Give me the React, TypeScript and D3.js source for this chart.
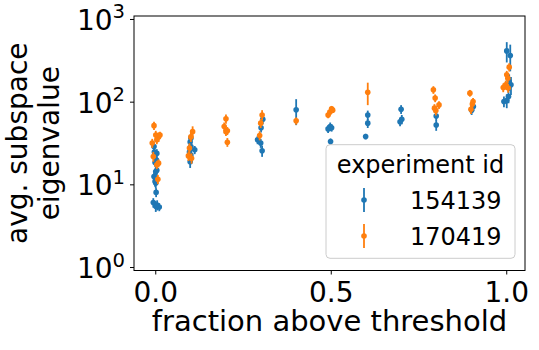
import { useRef, useEffect } from 'react'
import * as d3 from 'd3'

const BLUE = '#1f77b4'
const ORANGE = '#ff7f0e'

// experiment 154139
const fracA = [
  -0.005, 0.003, -0.004, 0.002, -0.002, 0.003, 0.0, -0.005, -0.002, 0.0, 0.001, -0.007, 0.004, 0.01, 0.0,
  0.1, 0.098, 0.1, 0.111, 0.096, 0.1, 0.098,
  0.305, 0.3, 0.29, 0.299, 0.303,
  0.4,
  0.497, 0.501, 0.491, 0.498,
  0.604, 0.604, 0.598,
  0.699, 0.701, 0.696,
  0.799, 0.799,
  0.905, 0.9,
  1.0, 1.01, 1.007, 1.012, 0.992, 1.0, 1.005,
]
const eigA = [
  29, 24, 25, 20, 18.6, 15, 14.5, 12.6, 11, 10.5, 8.1, 6.1, 5.7, 5.4, 5.5,
  36.7, 33, 29, 26.5, 25, 23, 19,
  62, 49, 35, 32, 25.8,
  80.7,
  50.7, 49, 47.5, 33.4,
  70, 55.7, 38.4,
  82, 62, 58,
  68, 53,
  88.5, 80,
  417, 366, 177, 162, 102, 104.5, 117,
]
const errA = [
  3, 3, 3, 2.5, 2, 2, 2, 1.5, 1.5, 1.5, 1, 0.8, 0.8, 0.6, 0.8,
  5, 4, 4, 3, 3, 3, 3,
  8, 6, 4, 4, 4,
  28,
  6, 5, 5, 3,
  9, 7, 3,
  10, 8, 7,
  8, 8,
  10, 10,
  115, 130, 40, 40, 15, 20, 20,
]

// experiment 170419
const fracB = [
  -0.005, 0.0, 0.008, -0.01, 0.003, 0.012, -0.007, 0.008, 0.003, 0.006,
  0.105, 0.1, 0.096, 0.093, 0.102,
  0.2, 0.195, 0.204, 0.2, 0.204,
  0.303, 0.299, 0.296,
  0.4,
  0.491, 0.496, 0.501, 0.504,
  0.604,
  0.791, 0.796, 0.807, 0.794, 0.798,
  0.895, 0.902, 0.904, 0.898,
  1.007, 1.0, 1.003, 0.997, 0.99, 1.004,
]
const eigB = [
  52, 40, 38, 32, 35, 40, 22, 18.3, 17.5, 11.7,
  44, 38, 27.8, 22.4, 21,
  62.8, 50.7, 45, 44, 32.8,
  70, 55.7, 39.5,
  59.4,
  70, 75.7, 83, 80,
  132,
  141, 112, 92.7, 84.6, 79,
  128.5, 95, 102, 82,
  265, 214, 195, 162, 150, 148,
]
const errB = [
  6, 5, 5, 4, 4, 4, 3, 2, 2, 1.5,
  7, 5, 4, 3, 3,
  8, 6, 5, 5, 4,
  10, 7, 5,
  6,
  6, 7, 7, 6,
  40,
  15, 12, 10, 10, 10,
  12, 10, 10, 10,
  30, 25, 25, 20, 18, 18,
]

const xTicks = [0, 0.5, 1.0]
const yTicks = [1, 10, 100, 1000]
const seriesNames = ['154139', '170419']

const FONT = 'DejaVu Sans, sans-serif'

export default function App() {
  const svgRef = useRef<SVGSVGElement | null>(null)
  const width = 539
  const height = 350
  const margin = { left: 134, right: 14, top: 16, bottom: 79.5 }

  useEffect(() => {
    if (!svgRef.current) return
    const svg = d3.select(svgRef.current)
    svg.selectAll('*').remove()

    const x = d3
      .scaleLinear()
      .domain([-0.062, 1.052])
      .range([margin.left, width - margin.right])
    const y = d3
      .scaleLog()
      .domain([Math.pow(10, -0.036), Math.pow(10, 3.042)])
      .range([height - margin.bottom, margin.top])

    const series = [
      { name: seriesNames[0], color: BLUE, xs: fracA, ys: eigA, es: errA },
      { name: seriesNames[1], color: ORANGE, xs: fracB, ys: eigB, es: errB },
    ]

    const plot = svg.append('g')
    series.forEach((s) => {
      const pts = s.xs.map((v, i) => ({ f: v, e: s.ys[i], err: s.es[i] }))
      const g = plot.append('g')
      g.selectAll('line')
        .data(pts)
        .join('line')
        .attr('x1', (d) => x(d.f))
        .attr('x2', (d) => x(d.f))
        .attr('y1', (d) => y(d.e + d.err))
        .attr('y2', (d) => y(Math.max(d.e - d.err, 0.5)))
        .attr('stroke', s.color)
        .attr('stroke-width', 1.8)
      g.selectAll('circle')
        .data(pts)
        .join('circle')
        .attr('cx', (d) => x(d.f))
        .attr('cy', (d) => y(d.e))
        .attr('r', 2.8)
        .attr('fill', s.color)
    })

    // frame
    svg
      .append('rect')
      .attr('x', margin.left)
      .attr('y', margin.top)
      .attr('width', width - margin.left - margin.right)
      .attr('height', height - margin.top - margin.bottom)
      .attr('fill', 'none')
      .attr('stroke', '#000')
      .attr('stroke-width', 1)

    // x ticks
    const xb = height - margin.bottom
    xTicks.forEach((t) => {
      svg.append('line')
        .attr('x1', x(t)).attr('x2', x(t))
        .attr('y1', xb).attr('y2', xb + 4)
        .attr('stroke', '#000')
      svg.append('text')
        .attr('x', x(t))
        .attr('y', 302)
        .attr('text-anchor', 'middle')
        .attr('font-family', FONT)
        .attr('font-size', 28)
        .text(d3.format('.1f')(t))
    })

    // y ticks
    yTicks.forEach((t) => {
      const yy = y(t)
      svg.append('line')
        .attr('x1', margin.left - 4).attr('x2', margin.left)
        .attr('y1', yy).attr('y2', yy)
        .attr('stroke', '#000')
      const txt = svg.append('text')
        .attr('x', 125)
        .attr('y', yy + 10.6)
        .attr('text-anchor', 'end')
        .attr('font-family', FONT)
        .attr('font-size', 28)
      txt.append('tspan').text('10')
      txt.append('tspan')
        .attr('font-size', 19.6)
        .attr('dy', -11.6)
        .text(String(Math.round(Math.log10(t))))
    })

    // axis labels
    svg.append('text')
      .attr('x', (margin.left + width - margin.right) / 2)
      .attr('y', 331)
      .attr('text-anchor', 'middle')
      .attr('font-family', FONT)
      .attr('font-size', 29)
      .text('fraction above threshold')

    const yl = svg.append('text')
      .attr('transform', `translate(0,${(margin.top + height - margin.bottom) / 2}) rotate(-90)`)
      .attr('text-anchor', 'middle')
      .attr('font-family', FONT)
      .attr('font-size', 28)
    yl.append('tspan').attr('x', 0).attr('y', 27).text('avg. subspace')
    yl.append('tspan').attr('x', 0).attr('y', 59).text('eigenvalue')

    // legend
    const lg = svg.append('g')
    lg.append('rect')
      .attr('x', 326).attr('y', 144.7)
      .attr('width', 189).attr('height', 113.6)
      .attr('rx', 4)
      .attr('fill', 'white').attr('fill-opacity', 0.8)
      .attr('stroke', '#cccccc')
    lg.append('text')
      .attr('x', 420.5).attr('y', 172.7)
      .attr('text-anchor', 'middle')
      .attr('font-family', FONT)
      .attr('font-size', 24)
      .text('experiment id')
    series.forEach((s, i) => {
      const cy = 200 + i * 36
      lg.append('line')
        .attr('x1', 364).attr('x2', 364)
        .attr('y1', cy - 12).attr('y2', cy + 12)
        .attr('stroke', s.color).attr('stroke-width', 1.8)
      lg.append('circle')
        .attr('cx', 364).attr('cy', cy).attr('r', 2.8).attr('fill', s.color)
      lg.append('text')
        .attr('x', 410).attr('y', cy + 8.5)
        .attr('font-family', FONT)
        .attr('font-size', 24)
        .text(s.name)
    })
  }, [])

  return (
    <svg
      ref={svgRef}
      width={width}
      height={height}
      style={{ position: 'absolute', left: 0, top: 0, background: 'white' }}
    />
  )
}
